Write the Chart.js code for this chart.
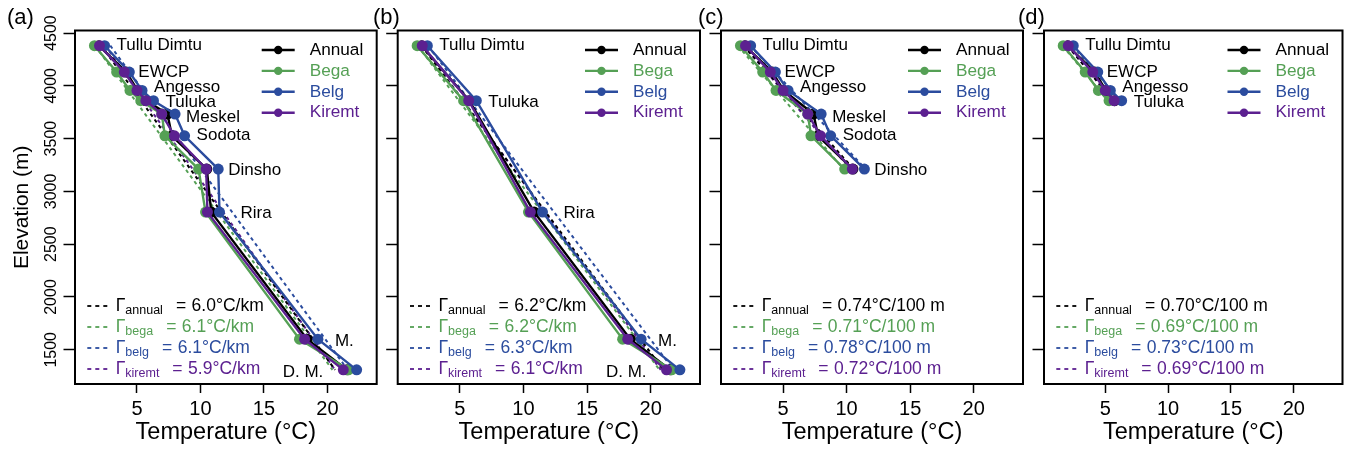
<!DOCTYPE html>
<html><head><meta charset="utf-8">
<script src="https://cdn.jsdelivr.net/npm/chart.js@4.4.0/dist/chart.umd.min.js"></script>
<style>
html,body{margin:0;padding:0;background:#fff;}
#wrap{position:relative;width:1348px;height:450px;overflow:hidden;background:#fff;}
canvas{position:absolute;left:0;top:0;}
</style></head><body><div id="wrap">
<canvas id="c0" width="1348" height="450"></canvas>
<canvas id="c1" width="1348" height="450"></canvas>
<canvas id="c2" width="1348" height="450"></canvas>
<canvas id="c3" width="1348" height="450"></canvas>
</div>
<script>
// ---------------- data ----------------
const stations   = ['Tullu Dimtu','EWCP','Angesso','Tuluka','Meskel','Sodota','Dinsho','Rira','M.','D. M.'];
const elevation  = [4380, 4130, 3956, 3859, 3733, 3527, 3212, 2804, 1601, 1310];
const tempAnnual = [2.0, 4.15, 5.05, 5.75, 7.4, 7.75, 10.5, 10.85, 18.4, 21.55];
const tempBega   = [1.65, 3.4, 4.45, 5.3, 6.95, 7.2, 9.85, 10.4, 17.8, 21.65];
const tempBelg   = [2.45, 4.4, 5.4, 6.3, 8.0, 8.75, 11.4, 11.5, 19.25, 22.3];
const tempKiremt = [2.05, 4.0, 5.0, 5.7, 6.95, 7.95, 10.45, 10.55, 18.2, 21.25];

const panelNames = ['(a)','(b)','(c)','(d)'];
const stationsA = ['Tullu Dimtu','EWCP','Angesso','Tuluka','Meskel','Sodota','Dinsho','Rira','M.','D. M.'];
const stationsB = ['Tullu Dimtu','Tuluka','Rira','M.','D. M.'];
const stationsC = ['Tullu Dimtu','EWCP','Angesso','Meskel','Sodota','Dinsho'];
const stationsD = ['Tullu Dimtu','EWCP','Angesso','Tuluka'];

// fitted lapse-rate lines per panel (a-d): [temperature at highest station, at lowest station]
const fitAnnual = [[2.2, 20.6], [2.0, 21.0], [1.9, 10.55], [2.0, 5.65]];
const fitBega   = [[1.7, 20.4], [1.7, 20.7], [1.45, 9.75], [1.6, 5.2]];
const fitBelg   = [[2.9, 21.6], [2.5, 21.8], [2.4, 11.5], [2.4, 6.2]];
const fitKiremt = [[2.5, 20.6], [2.1, 20.8], [1.9, 10.3], [2.0, 5.6]];

const lapseAnnual = ['6.0°C/km','6.2°C/km','0.74°C/100 m','0.70°C/100 m'];
const lapseBega   = ['6.1°C/km','6.2°C/km','0.71°C/100 m','0.69°C/100 m'];
const lapseBelg   = ['6.1°C/km','6.3°C/km','0.78°C/100 m','0.73°C/100 m'];
const lapseKiremt = ['5.9°C/km','6.1°C/km','0.72°C/100 m','0.69°C/100 m'];

const seriesNames = ['Annual','Bega','Belg','Kiremt'];
const subNames    = ['annual','bega','belg','kiremt'];
const xTicks = [5, 10, 15, 20];
const yTicks = [1500, 2000, 2500, 3000, 3500, 4000, 4500];
const xRange = [0.12, 23.88];
const yRange = [1176, 4524];

// ---------------- style / layout ----------------
const FONT = "'Liberation Sans', Arial, Helvetica, sans-serif";
const colors = ['#000000', '#55A055', '#2B4C9E', '#5C2090'];
const areaLeft  = [75, 397.7, 721, 1044];
const areaRight = [376.7, 700, 1023, 1345];
const areaTop = 30.5, areaBottom = 384;
const yAxisW = [75, 12, 12, 12];
const panelLabelX = [7, 373, 698, 1018];
const labelStyle = {
  'Tullu Dimtu': {dx: 12, dy: 0},
  'EWCP': {dx: 9, dy: 0},
  'Angesso': {dx: 12, dy: -3},
  'Tuluka': {dx: 12, dy: 2},
  'Meskel': {dx: 11, dy: 3},
  'Sodota': {dx: 12, dy: 0},
  'Dinsho': {dx: 10, dy: 1},
  'Rira': {dx: 21, dy: 1},
  'M.': {dx: 17, dy: 2},
  'D. M.': {dx: -20, dy: 2, right: true}
};

const temps  = [tempAnnual, tempBega, tempBelg, tempKiremt];
const fits   = [fitAnnual, fitBega, fitBelg, fitKiremt];
const lapses = [lapseAnnual, lapseBega, lapseBelg, lapseKiremt];
const panelStations = [stationsA, stationsB, stationsC, stationsD];

const overlay = {
  id: 'overlay',
  afterDatasetsDraw(chart, args, opts) {
    const p = opts.panel;
    const ctx = chart.ctx, a = chart.chartArea;
    const xs = chart.scales.x, ys = chart.scales.y;
    const idx = panelStations[p].map(n => stations.indexOf(n));
    ctx.save();
    // frame
    ctx.strokeStyle = '#000'; ctx.lineWidth = 2; ctx.setLineDash([]);
    ctx.strokeRect(a.left, a.top, a.right - a.left, a.bottom - a.top);
    // station labels
    ctx.fillStyle = '#000'; ctx.textBaseline = 'middle';
    ctx.font = '17px ' + FONT;
    idx.forEach(i => {
      const name = stations[i];
      const st = labelStyle[name] || {dx: 11, dy: 0};
      const vals = temps.map(t => t[i]);
      const y = ys.getPixelForValue(elevation[i]) + st.dy;
      if (st.right) {
        ctx.textAlign = 'right';
        ctx.fillText(name, xs.getPixelForValue(Math.min(...vals)) + st.dx, y);
      } else {
        ctx.textAlign = 'left';
        ctx.fillText(name, xs.getPixelForValue(Math.max(...vals)) + st.dx, y);
      }
    });
    // legend
    ctx.textAlign = 'left';
    for (let s = 0; s < 4; s++) {
      const y = 50 + s * 20.9;
      ctx.strokeStyle = colors[s]; ctx.fillStyle = colors[s]; ctx.lineWidth = 2.4;
      ctx.beginPath(); ctx.moveTo(a.right - 115, y); ctx.lineTo(a.right - 82, y); ctx.stroke();
      ctx.beginPath(); ctx.arc(a.right - 98.5, y, 4.2, 0, Math.PI * 2); ctx.fill();
      ctx.font = '17.2px ' + FONT;
      ctx.fillText(seriesNames[s], a.right - 67, y);
    }
    // lapse rate text
    for (let s = 0; s < 4; s++) {
      const y = 306 + s * 21;
      ctx.strokeStyle = colors[s]; ctx.fillStyle = colors[s]; ctx.lineWidth = 1.8;
      ctx.setLineDash([4, 4]);
      ctx.beginPath(); ctx.moveTo(a.left + 12.3, y); ctx.lineTo(a.left + 32.3, y); ctx.stroke();
      ctx.setLineDash([]);
      let x = a.left + 40.7;
      ctx.font = '17.5px ' + FONT; ctx.fillText('Γ', x, y); x += ctx.measureText('Γ').width;
      ctx.font = '12.5px ' + FONT; ctx.fillText(subNames[s], x, y + 5); x += ctx.measureText(subNames[s]).width;
      x += 13;
      ctx.font = '17.5px ' + FONT; ctx.fillText('=', x, y); x += ctx.measureText('=').width + 5.5;
      ctx.fillText(lapses[s][p], x, y);
    }
    // panel label
    ctx.fillStyle = '#000'; ctx.font = '22px ' + FONT; ctx.textAlign = 'left';
    ctx.fillText(panelNames[p], panelLabelX[p], 18);
    ctx.restore();
  }
};

function makePanel(p) {
  const idx = panelStations[p].map(n => stations.indexOf(n));
  const top = idx[0], bot = idx[idx.length - 1];
  const datasets = [];
  for (let s = 0; s < 4; s++) {
    datasets.push({
      label: 'fit ' + seriesNames[s],
      data: [{x: fits[s][p][0], y: elevation[top]}, {x: fits[s][p][1], y: elevation[bot]}],
      borderColor: colors[s], borderWidth: 2, borderDash: [3.5, 3.5],
      pointRadius: 0, showLine: true, order: 10 + s
    });
  }
  for (let s = 0; s < 4; s++) {
    datasets.push({
      label: seriesNames[s],
      data: idx.map(i => ({x: temps[s][i], y: elevation[i]})),
      borderColor: colors[s], backgroundColor: colors[s],
      pointBackgroundColor: colors[s], pointBorderColor: colors[s],
      borderWidth: 2.4, pointRadius: 5.5, pointBorderWidth: 0,
      showLine: true, order: 3 - s
    });
  }
  return new Chart(document.getElementById('c' + p), {
    type: 'scatter',
    data: {datasets},
    options: {
      responsive: false, animation: false, devicePixelRatio: 1,
      layout: {padding: {left: areaLeft[p] - yAxisW[p], right: 1348 - areaRight[p], top: areaTop, bottom: 0}},
      plugins: {legend: {display: false}, tooltip: {enabled: false}, overlay: {panel: p}},
      scales: {
        x: {
          type: 'linear', min: xRange[0], max: xRange[1],
          afterBuildTicks: s => { s.ticks = xTicks.map(v => ({value: v})); },
          afterFit: s => { s.height = 450 - areaBottom; },
          ticks: {callback: v => String(v), font: {family: FONT, size: 20}, color: '#000',
                  padding: 4, autoSkip: false, maxRotation: 0, minRotation: 0},
          grid: {display: true, drawOnChartArea: false, drawTicks: true, tickLength: 9, tickWidth: 1.5, tickColor: '#000'},
          border: {display: false},
          title: {display: true, text: 'Temperature (°C)', color: '#000',
                  font: {family: FONT, size: 23.5}, padding: {top: 0, bottom: 3}}
        },
        y: {
          type: 'linear', min: yRange[0], max: yRange[1],
          afterBuildTicks: s => { s.ticks = yTicks.map(v => ({value: v})); },
          afterFit: s => { s.width = yAxisW[p]; },
          ticks: {display: p === 0, callback: v => String(v), font: {family: FONT, size: 16}, color: '#000',
                  minRotation: 90, maxRotation: 90, crossAlign: 'center', padding: -5.8, autoSkip: false},
          grid: {display: true, drawOnChartArea: false, drawTicks: true, tickLength: 11.5, tickWidth: 1.5, tickColor: '#000'},
          border: {display: false},
          title: {display: p === 0, text: 'Elevation (m)', color: '#000',
                  font: {family: FONT, size: 21}, padding: {top: 9.5, bottom: 0}}
        }
      }
    },
    plugins: [overlay]
  });
}
for (let p = 0; p < 4; p++) makePanel(p);
</script>
</body></html>
